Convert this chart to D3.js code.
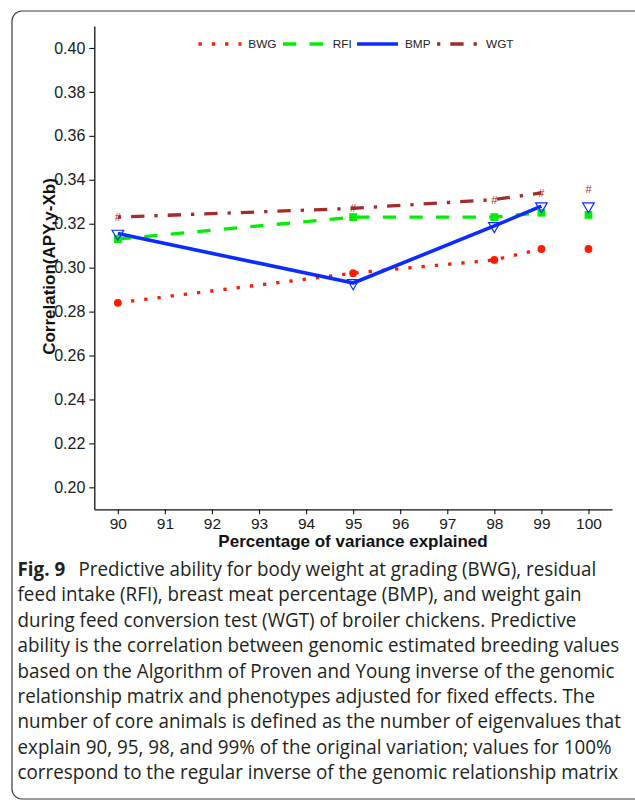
<!DOCTYPE html>
<html>
<head>
<meta charset="utf-8">
<script src="https://cdn.jsdelivr.net/npm/d3@7"></script>
<style>
  html, body { margin: 0; padding: 0; background: #fff; }
  svg { display: block; }
</style>
</head>
<body>
<svg id="chart" width="635" height="801"></svg>
<script>
// ---------------- data ----------------
const percents = [90, 95, 98, 99, 100];
const bwg = [0.284, 0.2975, 0.3035, 0.3085, 0.3085];
const rfi = [0.313, 0.323, 0.323, 0.325, 0.324];
const bmp = [0.3155, 0.293, 0.319, 0.328, 0.328];
const wgt = [0.323, 0.327, 0.331, 0.334, 0.336];
const seriesNames = ["BWG", "RFI", "BMP", "WGT"];
const connected = [90, 95, 98, 99]; // APY points joined by lines; 100 = regular inverse
const yTicks = [0.20, 0.22, 0.24, 0.26, 0.28, 0.30, 0.32, 0.34, 0.36, 0.38, 0.40];
const xTicks = [90, 91, 92, 93, 94, 95, 96, 97, 98, 99, 100];
const xTitle = "Percentage of variance explained";
const yTitle = "Correlation(APY,y-Xb)";
const captionBold = "Fig. 9";
const captionLines = [
  "Predictive ability for body weight at grading (BWG), residual",
  "feed intake (RFI), breast meat percentage (BMP), and weight gain",
  "during feed conversion test (WGT) of broiler chickens. Predictive",
  "ability is the correlation between genomic estimated breeding values",
  "based on the Algorithm of Proven and Young inverse of the genomic",
  "relationship matrix and phenotypes adjusted for fixed effects. The",
  "number of core animals is defined as the number of eigenvalues that",
  "explain 90, 95, 98, and 99% of the original variation; values for 100%",
  "correspond to the regular inverse of the genomic relationship matrix"
];

// ---------------- styles ----------------
const styles = {
  BWG: { color: "#ff1a00", dash: "3.3 10", marker: "circle" },
  RFI: { color: "#00ee00", dash: "13.3 13.3", marker: "square" },
  BMP: { color: "#0a2cff", dash: null, marker: "triangle" },
  WGT: { color: "#a52a2a", dash: "3.3 10 13.3 10", marker: "hash" }
};
const values = { BWG: bwg, RFI: rfi, BMP: bmp, WGT: wgt };

const svg = d3.select("#chart");
const axisFont = "'Liberation Sans', Arial, sans-serif";

// frame
svg.append("rect")
  .attr("x", 12).attr("y", 11).attr("width", 640).attr("height", 788)
  .attr("rx", 10).attr("ry", 10)
  .attr("fill", "none").attr("stroke", "#3a3a3a").attr("stroke-width", 1.2);

const x = d3.scaleLinear().domain([89.5, 100.5]).range([94.3, 612]);
const y = d3.scaleLinear().domain([0.19, 0.41]).range([509.3, 26]);

// axes
const yAxis = svg.append("g").attr("transform", "translate(94.3,0)")
  .call(d3.axisLeft(y).tickValues(yTicks).tickFormat(d3.format(".2f"))
    .tickSize(5).tickSizeOuter(0).tickPadding(4));
const xAxis = svg.append("g").attr("transform", "translate(0,509.3)")
  .call(d3.axisBottom(x).tickValues(xTicks).tickFormat(d3.format("d"))
    .tickSize(5).tickSizeOuter(0).tickPadding(4));
[yAxis, xAxis].forEach(g => {
  g.select(".domain").attr("stroke", "#111").attr("stroke-width", 1.3);
  g.selectAll(".tick line").attr("stroke", "#111").attr("stroke-width", 1.1);
  g.selectAll(".tick text").attr("fill", "#1a1a1a")
    .style("font-family", axisFont).style("font-size", "16px");
});
xAxis.selectAll(".tick text").style("font-size", "15.5px");

// axis titles
svg.append("text")
  .attr("x", 353).attr("y", 547)
  .attr("text-anchor", "middle")
  .style("font-family", axisFont).style("font-size", "17px").style("font-weight", "bold")
  .attr("fill", "#111")
  .text(xTitle);
svg.append("text")
  .attr("transform", "translate(55,266.5) rotate(-90)")
  .attr("text-anchor", "middle")
  .style("font-family", axisFont).style("font-size", "17px").style("font-weight", "bold")
  .attr("fill", "#111")
  .text(yTitle);

// lines
const lineGen = d3.line().x(d => x(d[0])).y(d => y(d[1]));
const plot = svg.append("g");
seriesNames.forEach(name => {
  const pts = percents.map((p, i) => [p, values[name][i]]).filter(d => connected.includes(d[0]));
  const st = styles[name];
  plot.append("path")
    .datum(pts)
    .attr("d", lineGen)
    .attr("fill", "none")
    .attr("stroke", st.color)
    .attr("stroke-width", name === "BMP" ? 3.6 : 3.3)
    .attr("stroke-dasharray", st.dash)
    .attr("stroke-linecap", "butt")
    .attr("stroke-linejoin", "round");
});

// markers
seriesNames.forEach(name => {
  const st = styles[name];
  const pts = percents.map((p, i) => [p, values[name][i]]);
  const g = plot.append("g");
  pts.forEach(d => {
    const cx = x(d[0]), cy = y(d[1]);
    if (st.marker === "circle") {
      g.append("circle").attr("cx", cx).attr("cy", cy).attr("r", 3.9).attr("fill", st.color);
    } else if (st.marker === "square") {
      g.append("rect").attr("x", cx - 3.9).attr("y", cy - 3.9)
        .attr("width", 7.8).attr("height", 7.8).attr("fill", st.color);
    } else if (st.marker === "triangle") {
      g.append("path")
        .attr("d", d3.symbol().type(d3.symbolTriangle).size(58)())
        .attr("transform", `translate(${cx},${cy}) rotate(180)`)
        .attr("fill", "none").attr("stroke", st.color).attr("stroke-width", 1.2);
    } else {
      g.append("text").attr("x", cx).attr("y", cy)
        .attr("text-anchor", "middle").attr("dominant-baseline", "central")
        .style("font-family", axisFont).style("font-size", "11px")
        .attr("fill", st.color).text("#");
    }
  });
});

// legend
const legendKeys = [
  { name: "BWG", x0: 198.5, x1: 241.5, tx: 248.3 },
  { name: "RFI", x0: 283, x1: 324, tx: 332.7 },
  { name: "BMP", x0: 357, x1: 398, tx: 405 },
  { name: "WGT", x0: 437, x1: 478, tx: 486 }
];
const leg = svg.append("g");
legendKeys.forEach(k => {
  const st = styles[k.name];
  leg.append("line")
    .attr("x1", k.x0).attr("x2", k.x1).attr("y1", 44).attr("y2", 44)
    .attr("stroke", st.color).attr("stroke-width", 3.3)
    .attr("stroke-dasharray", st.dash);
  leg.append("text")
    .attr("x", k.tx).attr("y", 44).attr("dominant-baseline", "central")
    .style("font-family", axisFont).style("font-size", "11.8px")
    .attr("fill", "#222").text(k.name);
});

// caption
const cap = svg.append("g").attr("transform", "translate(17.5,0)");
const capFont = "'Open Sans', 'Noto Sans', sans-serif";
const capTexts = [];
captionLines.forEach((line, i) => {
  const t = cap.append("text")
    .attr("x", 0).attr("y", 576 + i * 25.4)
    .style("font-family", capFont).style("font-size", "20px")
    .attr("fill", "#231f20");
  if (i === 0) {
    t.append("tspan").style("font-weight", "bold").text(captionBold);
    t.append("tspan").attr("dx", 9).text(" " + line);
  } else {
    t.text(line);
  }
  capTexts.push(t);
});
// horizontal condensation so the longest line spans the caption width
const w4 = capTexts[3].node().getComputedTextLength();
const sx = 602 / w4;
capTexts.forEach(t => t.attr("transform", `scale(${sx},1)`));
</script>
</body>
</html>
